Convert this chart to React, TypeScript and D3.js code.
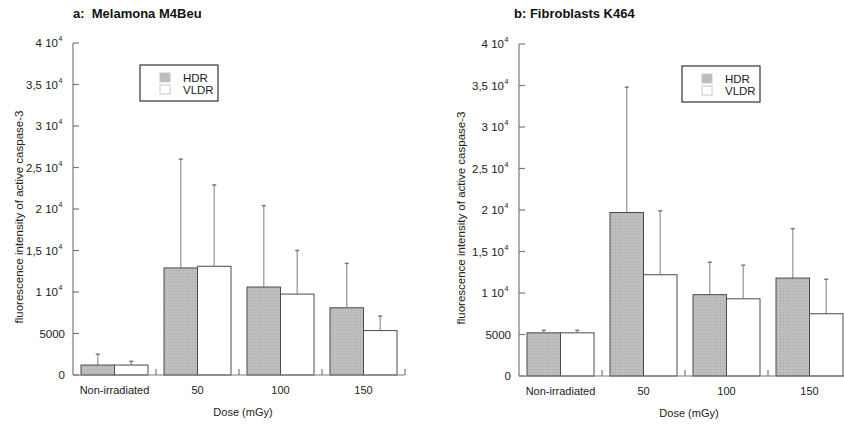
import React from "react";
import * as d3 from "d3";

const categories = ["Non-irradiated", "50", "100", "150"];
const seriesNames = ["HDR", "VLDR"];
const yTicks = [0, 5000, 10000, 15000, 20000, 25000, 30000, 35000, 40000];

const melanomaHDR = [1200, 12900, 10600, 8100];
const melanomaHDRErr = [2500, 26000, 20400, 13450];
const melanomaVLDR = [1200, 13100, 9750, 5350];
const melanomaVLDRErr = [1650, 22900, 15000, 7100];

const fibroHDR = [5200, 19700, 9800, 11800];
const fibroHDRErr = [5500, 34800, 13700, 17750];
const fibroVLDR = [5200, 12200, 9300, 7500];
const fibroVLDRErr = [5500, 19900, 13350, 11650];

const FONT = "Liberation Sans, Arial, sans-serif";

function tickLabel(v: number) {
  if (v === 0) return { base: "0", exp: "" };
  if (v < 10000) return { base: String(v), exp: "" };
  const m = v / 10000;
  const ms = String(m).replace(".", ",");
  return { base: ms + " 10", exp: "4" };
}

type PanelProps = {
  title: string;
  x0: number;
  x1: number;
  yBottom: number;
  yTop: number;
  hdr: number[];
  hdrErr: number[];
  vldr: number[];
  vldrErr: number[];
  legendX: number;
  legendY: number;
  titleX: number;
  yTitleX: number;
  patternId: string;
};

function Panel(p: PanelProps) {
  const y = d3.scaleLinear().domain([0, 40000]).range([p.yBottom, p.yTop]);
  const xb = d3.scaleBand<string>().domain(categories).range([p.x0, p.x1]).padding(0);
  const bw = xb.bandwidth();
  const xs = d3.scaleBand<string>().domain(seriesNames).range([8, bw - 8]).padding(0);
  const vals = [p.hdr, p.vldr];
  const errs = [p.hdrErr, p.vldrErr];
  const fills = [`url(#${p.patternId})`, "#ffffff"];
  const axisColor = "#7a7a7a";
  const midY = (p.yBottom + p.yTop) / 2;
  return (
    <g>
      <text x={p.titleX} y={18} fontFamily={FONT} fontWeight="bold" fontSize={13} fill="#111" style={{ whiteSpace: "pre" }}>
        {p.title}
      </text>
      {/* bars */}
      {categories.map((c, ci) =>
        seriesNames.map((s, si) => {
          const bx = (xb(c) as number) + (xs(s) as number);
          const w = xs.bandwidth();
          const top = y(vals[si][ci]);
          const et = y(errs[si][ci]);
          const cx = bx + w / 2;
          return (
            <g key={c + s}>
              <line x1={cx} x2={cx} y1={top} y2={et} stroke="#a8a8a8" strokeWidth={1.5} />
              <line x1={cx - 2} x2={cx + 2} y1={et} y2={et} stroke="#777" strokeWidth={1.5} />
              <rect x={bx} y={top} width={w} height={p.yBottom - top} fill={fills[si]} stroke="#4a4a4a" strokeWidth={1} />
            </g>
          );
        })
      )}
      {/* y axis */}
      <line x1={p.x0} x2={p.x0} y1={p.yTop} y2={p.yBottom} stroke={axisColor} strokeWidth={1.2} />
      {yTicks.map((t) => {
        const lb = tickLabel(t);
        return (
          <g key={t}>
            <line x1={p.x0} x2={p.x0 + 6} y1={y(t)} y2={y(t)} stroke={axisColor} strokeWidth={1.2} />
            <text x={p.x0 - (lb.exp ? 15 : 8)} y={y(t) + 4} textAnchor="end" fontFamily={FONT} fontSize={11.5} fill="#222">
              {lb.base}
            </text>
            {lb.exp && (
              <text x={p.x0 - 14.5} y={y(t) - 2} fontFamily={FONT} fontSize={7} fill="#222">
                {lb.exp}
              </text>
            )}
          </g>
        );
      })}
      {/* x axis */}
      <line x1={p.x0} x2={p.x1} y1={p.yBottom} y2={p.yBottom} stroke={axisColor} strokeWidth={1.2} />
      {categories.map((c) => {
        const bx = (xb(c) as number) + bw;
        return (
          <g key={c}>
            <line x1={bx} x2={bx} y1={p.yBottom} y2={p.yBottom - 6} stroke={axisColor} strokeWidth={1.2} />
            <text x={(xb(c) as number) + bw / 2} y={p.yBottom + 19} textAnchor="middle" fontFamily={FONT} fontSize={11} fill="#222">
              {c}
            </text>
          </g>
        );
      })}
      <text x={p.x0 + (4 * bw) / 2 + 4} y={p.yBottom + 41} textAnchor="middle" fontFamily={FONT} fontSize={11} fill="#222">
        Dose (mGy)
      </text>
      <text
        transform={`translate(${p.yTitleX},${midY + 8}) rotate(-90)`}
        textAnchor="middle"
        fontFamily={FONT}
        fontSize={11.5}
        fill="#222"
      >
        fluorescence intensity of active caspase-3
      </text>
      {/* legend */}
      <rect x={p.legendX} y={p.legendY} width={78} height={36} fill="#fff" stroke="#333" strokeWidth={1.2} />
      <rect x={p.legendX + 20} y={p.legendY + 8} width={10} height={9} fill="#bdbdbd" stroke="#c8c8c8" />
      <rect x={p.legendX + 20} y={p.legendY + 20} width={10} height={9} fill="#fff" stroke="#c8c8c8" />
      <text x={p.legendX + 43} y={p.legendY + 16.5} fontFamily={FONT} fontSize={11.5} fill="#222">HDR</text>
      <text x={p.legendX + 43} y={p.legendY + 28.5} fontFamily={FONT} fontSize={11.5} fill="#222">VLDR</text>
    </g>
  );
}

export default function App() {
  return (
    <svg width={844} height={427} style={{ position: "absolute", left: 0, top: 0, background: "#fff" }}>
      <defs>
        {["patA", "patB"].map((id) => (
          <pattern key={id} id={id} width={3} height={3} patternUnits="userSpaceOnUse">
            <rect width={3} height={3} fill="#bebebe" />
            <rect width={1} height={1} fill="#a9a9a9" />
          </pattern>
        ))}
      </defs>
      <rect width={844} height={427} fill="#fff" />
      <Panel
        title={"a:  Melamona M4Beu"}
        x0={73}
        x1={405}
        yBottom={375}
        yTop={43}
        hdr={melanomaHDR}
        hdrErr={melanomaHDRErr}
        vldr={melanomaVLDR}
        vldrErr={melanomaVLDRErr}
        legendX={140}
        legendY={65}
        titleX={73}
        yTitleX={23}
        patternId="patA"
      />
      <Panel
        title="b: Fibroblasts K464"
        x0={519}
        x1={851}
        yBottom={376}
        yTop={44}
        hdr={fibroHDR}
        hdrErr={fibroHDRErr}
        vldr={fibroVLDR}
        vldrErr={fibroVLDRErr}
        legendX={682}
        legendY={66}
        titleX={514}
        yTitleX={465}
        patternId="patB"
      />
    </svg>
  );
}
